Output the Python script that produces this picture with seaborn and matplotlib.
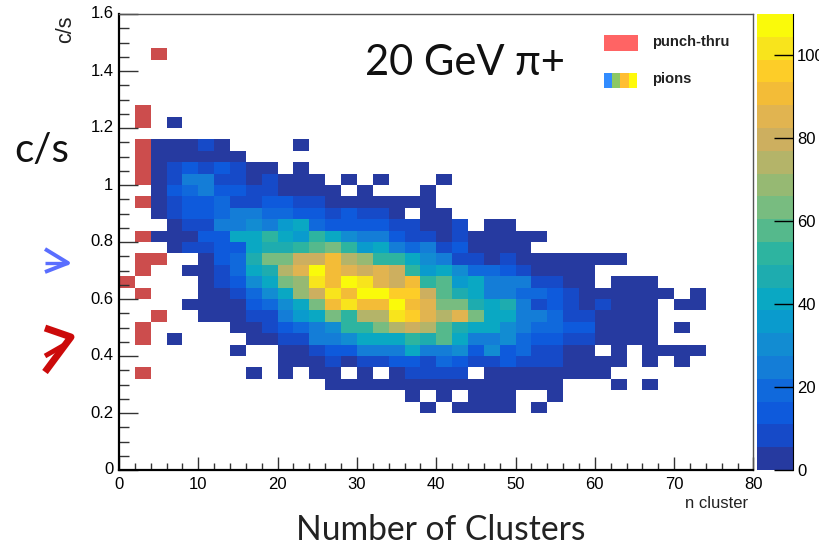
import numpy as np
import pandas as pd
import seaborn as sns
import matplotlib
matplotlib.use('Agg')
import matplotlib.pyplot as plt
from matplotlib.colors import ListedColormap
from matplotlib.lines import Line2D
from matplotlib.patches import Rectangle

W, H = 820, 546
N_BINS = 40
X_BIN = 2
Y_BIN = 0.04

# ROOT "bird" palette, 20 bands as seen on the colour bar
bird = ['#263aa0', '#164ac8', '#0e5adc', '#1069dc', '#147dd7', '#128cd2',
        '#0a9bcd', '#0aa8c3', '#1eacaf', '#2db4a0', '#55b98c', '#78bc80',
        '#96b973', '#b4b469', '#cdaf5f', '#e1b450', '#f3bc37', '#fdcd28',
        '#f8e41c', '#fafa0a']

# pion counts per row, from the left column, row number = y bin from the bottom
row_30 = [0, 0, 0, 3]
row_28 = [0, 0, 3, 3, 3, 8, 3, 0, 0, 0, 0, 3]
row_27 = [0, 0, 3, 3, 3, 3, 3, 3]
row_26 = [0, 0, 3, 8, 14, 8, 14, 8, 3, 3, 0, 3]
row_25 = [0, 0, 3, 8, 25, 25, 8, 8, 3, 8, 3, 3, 3, 0, 3, 0, 3, 0, 0, 0, 3]
row_24 = [0, 0, 3, 14, 19, 25, 14, 14, 8, 8, 3, 3, 3, 3, 0, 3, 0, 0, 0, 3]
row_23 = [0, 0, 3, 8, 14, 14, 19, 8, 8, 14, 14, 8, 8, 3, 3, 3, 3, 3, 3, 3]
row_22 = [0, 0, 3, 8, 14, 14, 19, 25, 25, 19, 19, 14, 14, 8, 14, 8, 8, 3, 0, 3, 3]
row_21 = [0, 0, 0, 3, 8, 8, 25, 25, 30, 25, 36, 41, 19, 14, 14, 14, 14, 8, 8, 3, 3, 8, 0, 3, 3]
row_20 = [0, 0, 3, 3, 3, 14, 14, 41, 41, 52, 41, 36, 52, 41, 30, 25, 25, 14, 8, 8, 3, 8, 3, 3, 3, 3, 3]
row_19 = [0, 0, 0, 3, 8, 8, 14, 14, 41, 47, 47, 52, 58, 63, 52, 36, 41, 25, 19, 25, 8, 14, 3, 3, 3, 3]
row_18 = [0, 0, 0, 0, 0, 3, 14, 19, 47, 63, 63, 80, 80, 91, 74, 69, 52, 52, 41, 30, 25, 8, 8, 3, 8, 3, 3, 3, 3, 3, 3, 3]
row_17 = [0, 0, 0, 0, 3, 3, 8, 19, 41, 47, 74, 85, 107, 91, 85, 80, 85, 80, 52, 36, 41, 30, 19, 19, 14, 8, 3, 3, 3, 3]
row_16 = [0, 0, 0, 0, 0, 3, 8, 14, 30, 41, 63, 69, 102, 91, 107, 102, 85, 80, 91, 52, 58, 36, 41, 25, 25, 25, 8, 8, 3, 3, 0, 3, 3, 3]
row_15 = [0, 0, 0, 0, 0, 3, 3, 8, 19, 30, 41, 69, 80, 102, 91, 107, 107, 96, 96, 80, 58, 47, 41, 25, 25, 19, 19, 14, 8, 3, 3, 3, 3, 3, 3, 0, 3]
row_14 = [0, 0, 0, 0, 3, 3, 3, 3, 14, 19, 30, 41, 63, 91, 102, 91, 91, 107, 91, 85, 63, 63, 47, 41, 47, 25, 8, 14, 8, 3, 8, 3, 3, 3, 0, 3, 3]
row_13 = [0, 0, 0, 0, 0, 3, 3, 3, 8, 8, 25, 36, 41, 63, 52, 74, 74, 102, 96, 85, 74, 85, 63, 41, 41, 25, 25, 19, 8, 8, 3, 3, 3, 3]
row_12 = [0, 0, 0, 0, 0, 0, 0, 3, 3, 8, 14, 19, 25, 30, 52, 52, 63, 74, 80, 74, 58, 47, 41, 41, 30, 25, 19, 19, 14, 14, 3, 3, 3, 3, 0, 3]
row_11 = [0, 0, 0, 3, 0, 0, 0, 0, 3, 3, 8, 8, 25, 25, 30, 41, 41, 41, 52, 47, 58, 41, 25, 25, 30, 19, 14, 14, 8, 8, 3, 3, 3, 3]
row_10 = [0, 0, 0, 0, 0, 0, 0, 3, 0, 0, 3, 3, 8, 14, 14, 25, 25, 25, 41, 25, 25, 30, 14, 30, 14, 19, 8, 8, 3, 3, 0, 3, 0, 3, 3, 3, 3]
row_09 = [0, 0, 0, 0, 0, 0, 0, 0, 0, 0, 3, 3, 3, 8, 3, 8, 8, 14, 14, 8, 19, 14, 8, 8, 14, 8, 8, 8, 3, 3, 3, 3, 0, 3, 0, 3]
row_08 = [0, 0, 0, 0, 0, 0, 0, 0, 3, 0, 3, 0, 3, 3, 0, 3, 0, 3, 8, 8, 8, 8, 0, 3, 3, 3, 3, 3, 3, 3, 3]
row_07 = [0, 0, 0, 0, 0, 0, 0, 0, 0, 0, 0, 0, 0, 3, 3, 3, 3, 3, 3, 3, 3, 3, 3, 3, 3, 3, 3, 3, 0, 0, 0, 3, 0, 3]
row_06 = [0, 0, 0, 0, 0, 0, 0, 0, 0, 0, 0, 0, 0, 0, 0, 0, 0, 0, 3, 0, 3, 0, 3, 3, 3, 0, 0, 3]
row_05 = [0, 0, 0, 0, 0, 0, 0, 0, 0, 0, 0, 0, 0, 0, 0, 0, 0, 0, 0, 3, 0, 3, 3, 3, 3, 0, 3]

pion_rows = {30: row_30, 28: row_28, 27: row_27, 26: row_26, 25: row_25, 24: row_24,
             23: row_23, 22: row_22, 21: row_21, 20: row_20, 19: row_19, 18: row_18,
             17: row_17, 16: row_16, 15: row_15, 14: row_14, 13: row_13, 12: row_12,
             11: row_11, 10: row_10, 9: row_09, 8: row_08, 7: row_07, 6: row_06, 5: row_05}

# punch-thru cells
red_cols = [1, 1, 2, 1, 1, 1, 1, 1, 1, 1, 1, 2, 1, 0, 1, 2, 1, 1]
red_rows = [31, 30, 36, 28, 27, 26, 25, 23, 20, 18, 17, 18, 15, 16, 12, 13, 11, 8]

x_labels = ['0', '10', '20', '30', '40', '50', '60', '70', '80']
y_labels = ['0', '0.2', '0.4', '0.6', '0.8', '1', '1.2', '1.4', '1.6']
cbar_ticks = [0, 20, 40, 60, 80, 100]

pions = np.zeros((N_BINS, N_BINS))
for r, vals in pion_rows.items():
    pions[r, :len(vals)] = vals
red = np.zeros((N_BINS, N_BINS))
red[red_rows, red_cols] = 1

plt.rcParams['font.family'] = ['Liberation Sans', 'DejaVu Sans']

fig = plt.figure(figsize=(W / 100, H / 100), dpi=100)
ax = fig.add_axes([119 / W, (H - 470) / H, 634.5 / W, 456 / H])
cax = fig.add_axes([757 / W, (H - 470) / H, 36 / W, 456 / H])

sns.heatmap(pd.DataFrame(pions), mask=pions == 0, cmap=ListedColormap(bird), vmin=0, vmax=110,
            ax=ax, cbar_ax=cax, cbar_kws={'ticks': cbar_ticks})
sns.heatmap(pd.DataFrame(red), mask=red == 0, cmap=ListedColormap(['#cc4d4d']), vmin=0, vmax=1,
            ax=ax, cbar=False)

ax.set_xlim(0, N_BINS)
ax.set_ylim(0, N_BINS)
ax.set_xlabel('')
ax.set_ylabel('')
ax.set_xticks(np.arange(len(x_labels)) * 10 / X_BIN, x_labels, rotation=0)
ax.set_yticks(np.arange(len(y_labels)) * 0.2 / Y_BIN, y_labels, rotation=0)
ax.set_xticks(np.arange(0, 81, 2) / X_BIN, minor=True)
ax.set_yticks(np.arange(0, 33) * 0.05 / Y_BIN, minor=True)
ax.tick_params(which='both', direction='in', width=1.0, color='#333333', labelsize=12, top=False, right=False)
ax.tick_params(axis='y', which='major', length=14, pad=4)
ax.tick_params(axis='y', which='minor', length=7)
ax.tick_params(axis='x', which='major', length=9.5, pad=5)
ax.tick_params(axis='x', which='minor', length=5)
for side in ['left', 'bottom']:
    ax.spines[side].set_visible(True)
    ax.spines[side].set_linewidth(1.6)
for side in ['top', 'right']:
    ax.spines[side].set_visible(True)
    ax.spines[side].set_linewidth(1.0)
    ax.spines[side].set_color('#555555')

cax.tick_params(direction='in', length=14, width=1.0, labelsize=12, pad=3, right=True, labelright=True)
cax.spines['right'].set_visible(True)


def px(x, y):
    return x / W, 1 - y / H


def label(x, y, s, **kw):
    fig.text(*px(x, y), s, va='center', **kw)


big = ['Lato', 'DejaVu Sans']
label(365, 63, '20 GeV π+', fontsize=30, family=big, color='#111111')
label(14, 150, 'c/s', fontsize=29, family=big, color='#111111')
label(441, 530, 'Number of Clusters', fontsize=24.2, family=big, ha='center', color='#222222')
label(748, 503, 'n cluster', fontsize=12, ha='right', color='#222222')
label(65.5, 29.5, 'c/s', fontsize=15.5, rotation=90, ha='center', color='#222222')
label(652, 42, 'punch-thru', fontsize=10.6, fontweight='bold', color='#222222')
label(652, 79, 'pions', fontsize=10.6, fontweight='bold', color='#222222')

fig.add_artist(Rectangle(px(604, 51), 34 / W, 16 / H, transform=fig.transFigure, color='#ff6464', lw=0))
for i, c in enumerate(['#328cff', '#8cc864', '#ffbe32', '#fffa0a']):
    fig.add_artist(Rectangle(px(604 + i * 8.2, 88), 8.2 / W, 15 / H, transform=fig.transFigure, color=c, lw=0))


def stroke(points, color, lw):
    xs, ys = zip(*[px(*p) for p in points])
    fig.add_artist(Line2D(xs, ys, transform=fig.transFigure, color=color, lw=lw,
                          solid_capstyle='butt', solid_joinstyle='round'))


stroke([(45, 249), (68, 263), (45, 272)], '#5a6eff', 2.8)
stroke([(45, 263), (68, 263)], '#5a6eff', 2.4)
stroke([(45, 328), (71, 337), (45, 372)], '#cc0a0a', 5)
stroke([(45, 356), (66, 344)], '#cc0a0a', 3.5)

fig.savefig('out.png', dpi=100)
